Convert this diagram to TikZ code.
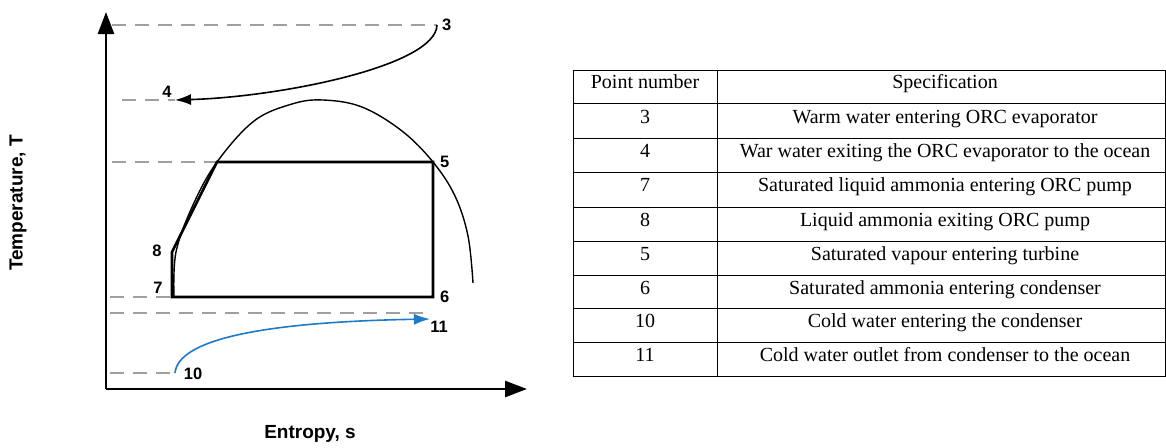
\documentclass[tikz,border=0pt]{standalone}
\usepackage{fontspec}
\setmainfont{Liberation Serif}
\newfontfamily\diagfont{Liberation Sans}
\usetikzlibrary{arrows.meta,positioning}
\definecolor{coldblue}{RGB}{31,122,200}
\tikzset{
  axis/.style={line width=2.6pt,-{Triangle[length=22pt,width=16pt]}},
  dashline/.style={gray!75,line width=1.1pt,dash pattern=on 14pt off 9pt},
  cyc/.style={line width=2.6pt,line join=miter},
  flow/.style={line width=1.6pt,-{Latex[length=16pt,width=11pt]}},
  numlbl/.style={font=\diagfont\bfseries\fontsize{16.5}{18}\selectfont,inner sep=1pt},
  axlbl/.style={font=\diagfont\bfseries\fontsize{19}{21}\selectfont},
  cell/.style={font=\fontsize{20}{22}\selectfont,anchor=base,inner sep=0pt}
}
\begin{document}
\begin{tikzpicture}[x=1pt,y=-1pt]
\useasboundingbox (0,0) rectangle (1166,447);
% axes
\coordinate (o) at (106,389);
\coordinate (ytop) at (106,12);
\coordinate (xend) at (527,389);
\draw[axis] (o) -- (ytop);
\draw[axis] (o) -- (xend);
\node[axlbl,rotate=90] (tlabel) at (18,203) {Temperature, T};
\node[axlbl] (slabel) at (310,434) {Entropy, s};
% state points
\coordinate (p3) at (437,25);
\coordinate (p4) at (175,100);
\coordinate (p5) at (433,162);
\coordinate (sl) at (217,162);
\coordinate (p6) at (433,297);
\coordinate (p7) at (172,297);
\coordinate (p8) at (172,252);
\coordinate (p10) at (175,373);
\coordinate (p11) at (430,319);
\coordinate (d11) at (427,313);
% free ends on the T axis
\coordinate (t3) at (112,25);
\coordinate (t4) at (122,100);
\coordinate (t5) at (112,162);
\coordinate (t7) at (110,297);
\coordinate (t11) at (110,313);
\coordinate (t10) at (110,373);
\draw[dashline] (t3) -- (p3);
\draw[dashline] (t4) -- (p4);
\draw[dashline] (t5) -- (sl);
\draw[dashline] (t7) -- (p7);
\draw[dashline] (t11) -- (d11);
\draw[dashline] (t10) -- (p10);
% saturation dome
\draw[line width=1.4pt] plot[smooth,tension=0.6] coordinates {(174,297) (176,252) (193,205) (217,162) (254,121) (292,104) (323,100) (362,107) (402,131) (433,162) (455,196) (468,236) (473,283)};
% cycle
\draw[cyc] (p7) -- (p8) -- (sl) -- (p5) -- (p6) -- cycle;
% warm and cold water
\draw[flow] (p3) .. controls (436,66) and (280,97) .. (p4);
\draw[flow,coldblue] (p10) .. controls (178,340) and (260,322) .. (p11);
\node[numlbl,right=4pt] at (p3) {3};
\node[numlbl] at (167,92) {4};
\node[numlbl,right=6pt] at (p5) {5};
\node[numlbl,right=6pt] at (p6) {6};
\node[numlbl] at (158,288) {7};
\node[numlbl] at (157,251) {8};
\node[numlbl] at (193,374) {10};
\node[numlbl] at (439,327) {11};
% table
\draw[line width=1pt] (573,70) rectangle (1165,376);
\draw[line width=1pt] (717,70) -- (717,376);
\draw[line width=1pt] (573,103) -- (1165,103);
\draw[line width=1pt] (573,138) -- (1165,138);
\draw[line width=1pt] (573,172) -- (1165,172);
\draw[line width=1pt] (573,207) -- (1165,207);
\draw[line width=1pt] (573,241) -- (1165,241);
\draw[line width=1pt] (573,275) -- (1165,275);
\draw[line width=1pt] (573,308) -- (1165,308);
\draw[line width=1pt] (573,342) -- (1165,342);
\node[cell] (h1) at (645,88) {Point number};
\node[cell] (h2) at (945,88) {Specification};
\node[cell] (n3) at (645,123) {3};
\node[cell] (s3) at (945,123) {Warm water entering ORC evaporator};
\node[cell] (n4) at (645,157) {4};
\node[cell] (s4) at (945,157) {War water exiting the ORC evaporator to the ocean};
\node[cell] (n7) at (645,191) {7};
\node[cell] (s7) at (945,191) {Saturated liquid ammonia entering ORC pump};
\node[cell] (n8) at (645,226) {8};
\node[cell] (s8) at (945,226) {Liquid ammonia exiting ORC pump};
\node[cell] (n5) at (645,260) {5};
\node[cell] (s5) at (945,260) {Saturated vapour entering turbine};
\node[cell] (n6) at (645,294) {6};
\node[cell] (s6) at (945,294) {Saturated ammonia entering condenser};
\node[cell] (n10) at (645,327) {10};
\node[cell] (s10) at (945,327) {Cold water entering the condenser};
\node[cell] (n11) at (645,361) {11};
\node[cell] (s11) at (945,361) {Cold water outlet from condenser to the ocean};
\end{tikzpicture}
\end{document}
